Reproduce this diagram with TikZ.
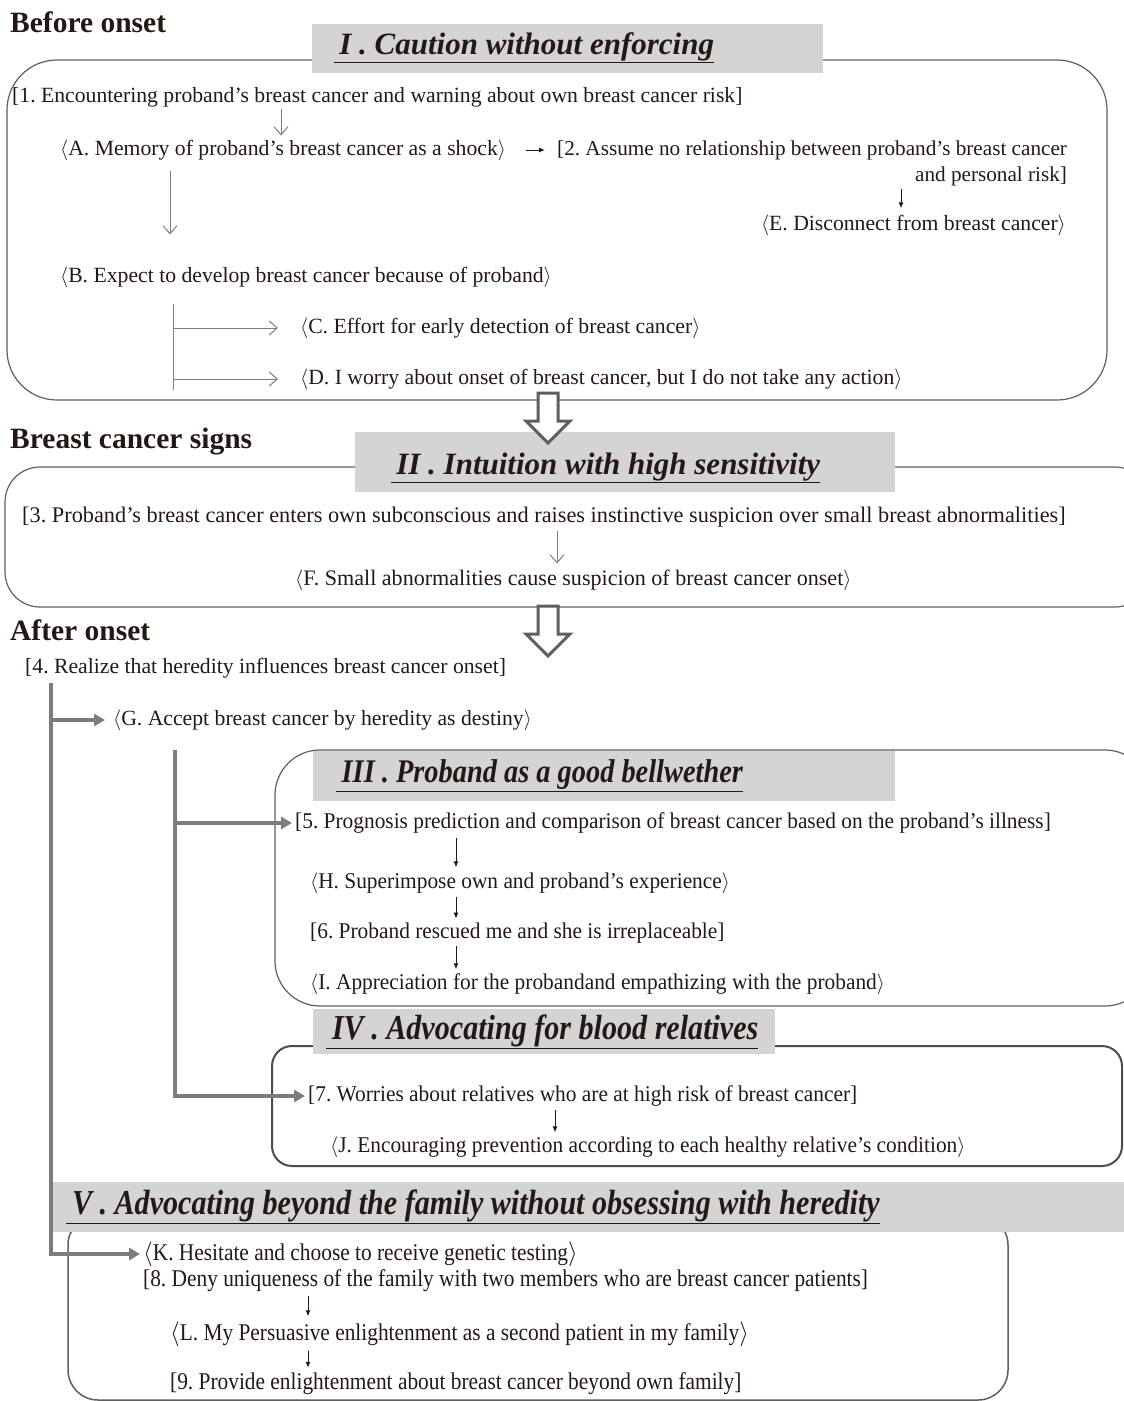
\documentclass[tikz,border=0pt]{standalone}
\usepackage{fontspec}
\setmainfont{Liberation Serif}
\newfontfamily\condfont[FakeStretch=0.95]{Liberation Serif}
\newfontfamily\narrowfont[FakeStretch=0.89]{Liberation Serif}
\newfontfamily\titlefont[FakeStretch=0.86]{Liberation Serif}
\usetikzlibrary{arrows.meta,positioning}
\frenchspacing

\definecolor{panelgray}{RGB}{212,212,212}
\definecolor{framegray}{RGB}{95,95,95}
\definecolor{flowgray}{RGB}{125,125,125}
\definecolor{inkblack}{RGB}{35,24,21}

\tikzset{
  txt/.style={anchor=west, inner sep=0pt, text=inkblack, font=\fontsize{21.7}{26}\selectfont},
  ctxt/.style={txt, font=\condfont\fontsize{22.5}{26}\selectfont},
  vtxt/.style={txt, font=\narrowfont\fontsize{24}{26}\selectfont},
  phase/.style={anchor=west, inner sep=0pt, text=inkblack, font=\bfseries\fontsize{29.5}{32}\selectfont},
  cattitle/.style={anchor=west, inner sep=0pt, text=inkblack, font=\bfseries\itshape\fontsize{31}{34}\selectfont},
  ctitle/.style={cattitle, font=\titlefont\bfseries\itshape\fontsize{35}{38}\selectfont},
  frame/.style={draw=framegray, line width=1.2pt},
  panel/.style={fill=panelgray},
  openarr/.style={draw=flowgray, line width=1pt, -{Straight Barb[length=8pt,width=14pt]}},
  darr/.style={draw=inkblack, line width=1pt, -{Latex[length=6pt,width=5pt]}},
  flow/.style={draw=flowgray, line width=4pt, -{Triangle[length=11pt,width=12pt]}},
  hollow/.style={draw=framegray, line width=3pt, fill=white, line join=miter}
}

\begin{document}
\begin{tikzpicture}[x=1pt, y=-1pt]
\useasboundingbox (0,0) rectangle (1124,1401);

% rounded frames of the five categories
\draw[frame, rounded corners=50pt] (7,60) rectangle (1107,400);
\draw[frame, rounded corners=35pt] (5,467) rectangle (1150,607);
\draw[frame, rounded corners=45pt] (275,750) rectangle (1150,1006);
\draw[frame, line width=2pt, draw=black!70, rounded corners=20pt] (272,1046) rectangle (1122,1166);
\draw[frame, line width=1.5pt, rounded corners=30pt] (68,1215) rectangle (1008,1400);

% grey title bands
\fill[panel] (312,24) rectangle (823,73);
\fill[panel] (355,432) rectangle (895,492);
\fill[panel] (313,751) rectangle (895,801);
\fill[panel] (313,1009) rectangle (775,1054);
\fill[panel] (50,1182) rectangle (1124,1232);

\node[cattitle] (t1) at (334,48) {\underline{\,I . Caution without enforcing}};
\node[cattitle] (t2) at (391,468) {\underline{\,II . Intuition with high sensitivity}};
\node[ctitle, font=\titlefont\bfseries\itshape\fontsize{33}{36}\selectfont] (t3) at (336,776) {\underline{\,III . Proband as a good bellwether}};
\node[ctitle] (t4) at (326,1032) {\underline{\,IV . Advocating for blood relatives}};
\node[ctitle] (t5) at (66,1207) {\underline{\,V . Advocating beyond the family without obsessing with heredity}};

% phase headings
\node[phase] (hBefore) at (10,22) {Before onset};
\node[phase] (hSigns) at (10,442) {Breast cancer signs};
\node[phase] (hAfter) at (10,630) {After onset};

% before onset
\node[txt] (n1) at (12,97) {[1. Encountering proband’s breast cancer and warning about own breast cancer risk]};
\node[txt] (nA) at (60,150) {$\langle$A. Memory of proband’s breast cancer as a shock$\rangle$};
\node[txt, align=right, font=\fontsize{21.2}{26}\selectfont] (n2) at (557,163) {[2. Assume no relationship between proband’s breast cancer\\and personal risk]};
\node[txt, anchor=east] (nE) at (1066,225) {$\langle$E. Disconnect from breast cancer$\rangle$};
\node[txt] (nB) at (60,277) {$\langle$B. Expect to develop breast cancer because of proband$\rangle$};
\node[txt] (nC) at (300,328) {$\langle$C. Effort for early detection of breast cancer$\rangle$};
\node[txt] (nD) at (300,379) {$\langle$D. I worry about onset of breast cancer, but I do not take any action$\rangle$};

\draw[openarr, shorten <=2pt, shorten >=4pt] (281,0 |- n1.south) -- (281,0 |- nA.north);
\draw[openarr, shorten <=10pt, shorten >=32pt] (170,0 |- nA.south) -- (170,0 |- nB.north);
\draw[darr, shorten <=20pt, shorten >=12pt] (nA.east) -- (n2.west |- nA);
\draw[darr, shorten <=3pt, shorten >=6pt] (901,0 |- n2.south) -- (901,0 |- nE.north);
\draw[draw=flowgray, line width=1pt, shorten <=16pt] (173,0 |- nB.south) -- (173,0 |- nD.south);
\draw[openarr, shorten >=22pt] (173,0 |- nC) -- (nC.west);
\draw[openarr, shorten >=22pt] (173,0 |- nD) -- (nD.west);

% breast cancer signs
\node[txt, font=\fontsize{22.3}{26}\selectfont] (n3) at (22,517) {[3. Proband’s breast cancer enters own subconscious and raises instinctive suspicion over small breast abnormalities]};
\node[txt, font=\fontsize{22.1}{26}\selectfont] (nF) at (295,580) {$\langle$F. Small abnormalities cause suspicion of breast cancer onset$\rangle$};
\draw[openarr, shorten <=4pt, shorten >=6pt] (557,0 |- n3.south) -- (557,0 |- nF.north);

% hollow arrows between phases
\foreach \y in {393,606}
  \draw[hollow] (538,\y) -- ++(0,28) -- ++(-12,0) -- ++(22,22) -- ++(22,-22) -- ++(-12,0) -- ++(0,-28) -- cycle;

% after onset
\node[txt] (n4) at (25,668) {[4. Realize that heredity influences breast cancer onset]};
\node[txt] (nG) at (113,720) {$\langle$G. Accept breast cancer by heredity as destiny$\rangle$};

\node[ctxt] (n5) at (295,823) {[5. Prognosis prediction and comparison of breast cancer based on the proband’s illness]};
\node[ctxt] (nH) at (310,883) {$\langle$H. Superimpose own and proband’s experience$\rangle$};
\node[ctxt] (n6) at (310,933) {[6. Proband rescued me and she is irreplaceable]};
\node[ctxt] (nI) at (310,984) {$\langle$I. Appreciation for the probandand empathizing with the proband$\rangle$};
\draw[darr, shorten <=4pt, shorten >=5pt] (456,0 |- n5.south) -- (456,0 |- nH.north);
\draw[darr, shorten <=3pt, shorten >=4pt] (456,0 |- nH.south) -- (456,0 |- n6.north);
\draw[darr, shorten <=3pt, shorten >=4pt] (456,0 |- n6.south) -- (456,0 |- nI.north);

\node[ctxt] (n7) at (308,1096) {[7. Worries about relatives who are at high risk of breast cancer]};
\node[ctxt] (nJ) at (330,1147) {$\langle$J. Encouraging prevention according to each healthy relative’s condition$\rangle$};
\draw[darr, shorten <=3pt, shorten >=4pt] (555,0 |- n7.south) -- (555,0 |- nJ.north);

\node[vtxt] (nK) at (143,1254) {$\langle$K. Hesitate and choose to receive genetic testing$\rangle$};
\node[vtxt] (n8) at (143,1281) {[8. Deny uniqueness of the family with two members who are breast cancer patients]};
\node[vtxt] (nL) at (170,1334) {$\langle$L. My Persuasive enlightenment as a second patient in my family$\rangle$};
\node[vtxt] (n9) at (170,1384) {[9. Provide enlightenment about breast cancer beyond own family]};
\draw[darr, shorten <=4pt, shorten >=5pt] (308,0 |- n8.south) -- (308,0 |- nL.north);
\draw[darr, shorten <=4pt, shorten >=5pt] (308,0 |- nL.south) -- (308,0 |- n9.north);

% heredity branches
\coordinate (trunk1) at (51,683);
\coordinate (trunk2) at (175,750);
\draw[flow, shorten >=3pt] (trunk1) |- (nK.west);
\draw[flow, shorten >=8pt] (trunk1 |- nG) -- (nG.west);
\draw[flow, shorten >=3pt] (trunk2) |- (n7.west);
\draw[flow, shorten >=3pt] (trunk2 |- n5) -- (n5.west);

\end{tikzpicture}
\end{document}
